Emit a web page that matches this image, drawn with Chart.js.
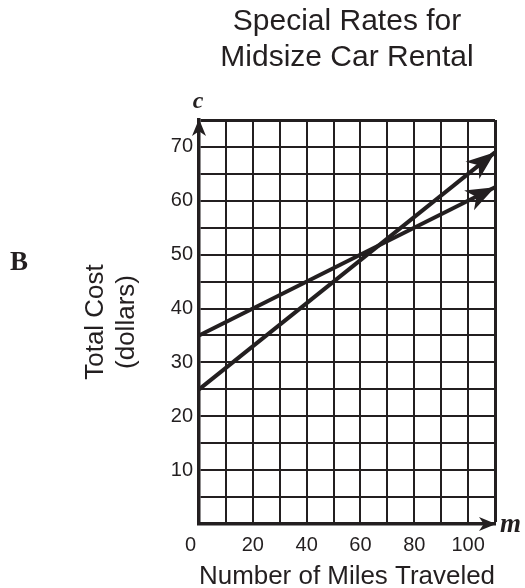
<!DOCTYPE html>
<html>
<head>
<meta charset="utf-8">
<script src="https://cdn.jsdelivr.net/npm/chart.js@4/dist/chart.umd.min.js"></script>
<style>
html,body{margin:0;padding:0;background:#fff;}
#wrap{width:525px;height:588px;position:relative;}
</style>
</head>
<body>
<div id="wrap"><canvas id="c" width="525" height="588"></canvas></div>
<script>
// ---- data ----
const chartTitle = ["Special Rates for", "Midsize Car Rental"];
const xTitle = "Number of Miles Traveled";
const yTitle = ["Total Cost", "(dollars)"];
const miles = [0, 110];
const rateLow = [35, 62.5];   // starts at $35
const rateHigh = [25, 69];    // starts at $25
const xTickLabels = [0, 20, 40, 60, 80, 100];
const yTickLabels = [10, 20, 30, 40, 50, 60, 70];
const partLabel = "B";
const xVar = "m";
const yVar = "c";

const INK = '#231f20';

function arrowHead(ctx, x, y, ang, len, half) {
  ctx.save();
  ctx.translate(x, y);
  ctx.rotate(ang);
  ctx.beginPath();
  ctx.moveTo(0, 0);
  ctx.lineTo(-len, -half);
  ctx.lineTo(-len * 0.72, 0);
  ctx.lineTo(-len, half);
  ctx.closePath();
  ctx.fillStyle = INK;
  ctx.fill();
  ctx.restore();
}

const decor = {
  id: 'decor',
  afterDatasetsDraw(chart) {
    const ctx = chart.ctx;
    const xs = chart.scales.x, ys = chart.scales.y;
    chart.data.datasets.forEach((ds, i) => {
      const pts = chart.getDatasetMeta(i).data;
      const a = pts[pts.length - 2], b = pts[pts.length - 1];
      const ang = Math.atan2(b.y - a.y, b.x - a.x);
      arrowHead(ctx, b.x, b.y, ang, 29, 11);
    });
    const x0 = xs.getPixelForValue(0), xMax = xs.getPixelForValue(xs.max);
    const y0 = ys.getPixelForValue(0), yMax = ys.getPixelForValue(ys.max);
    arrowHead(ctx, x0, yMax - 1, -Math.PI / 2, 17, 7);
    arrowHead(ctx, xMax + 1, y0, 0, 17, 7);
    ctx.save();
    ctx.fillStyle = INK;
    ctx.font = 'italic bold 24px "Liberation Serif", "DejaVu Serif", serif';
    ctx.textAlign = 'center';
    ctx.textBaseline = 'alphabetic';
    ctx.fillText(yVar, x0 - 1, yMax - 12);
    ctx.textAlign = 'left';
    ctx.font = 'italic bold 27px "Liberation Serif", "DejaVu Serif", serif';
    ctx.fillText(xVar, xMax + 5, y0 + 8);
    ctx.font = 'bold 27px "Liberation Serif", "DejaVu Serif", serif';
    ctx.fillText(partLabel, 10, 270);
    ctx.restore();
  }
};

new Chart(document.getElementById('c'), {
  type: 'line',
  data: {
    datasets: [
      { label: 'Low', data: miles.map((m, i) => ({ x: m, y: rateLow[i] })),
        borderColor: INK, borderWidth: 4, pointRadius: 0, tension: 0, fill: false, clip: false },
      { label: 'High', data: miles.map((m, i) => ({ x: m, y: rateHigh[i] })),
        borderColor: INK, borderWidth: 4, pointRadius: 0, tension: 0, fill: false, clip: false }
    ]
  },
  options: {
    responsive: false,
    animation: false,
    events: [],
    layout: { padding: { left: 60, right: 30, top: 0, bottom: 0 } },
    plugins: {
      legend: { display: false },
      tooltip: { enabled: false },
      title: {
        display: true,
        text: chartTitle,
        fullSize: false,
        color: INK,
        font: { family: '"Liberation Sans", Arial, sans-serif', size: 30, weight: 'normal', lineHeight: 1.2 },
        padding: { top: 4, bottom: 44 }
      }
    },
    scales: {
      x: {
        type: 'linear',
        min: 0, max: 110,
        afterFit(s) { s.height = 64; },
        afterBuildTicks(s) { s.ticks = []; for (let v = 0; v <= 110; v += 10) s.ticks.push({ value: v }); },
        ticks: {
          autoSkip: false, maxRotation: 0, padding: 9,
          color: INK,
          font: { family: '"Liberation Sans", Arial, sans-serif', size: 20 },
          callback: (v) => xTickLabels.includes(v) ? (v === 0 ? '0   ' : String(v)) : ''
        },
        grid: {
          color: INK,
          lineWidth: (c) => (c.tick && c.tick.value === 110 ? 3 : 2),
          drawTicks: false
        },
        border: { display: true, color: INK, width: 3.5 },
        title: {
          display: true, text: xTitle, color: INK,
          font: { family: '"Liberation Sans", Arial, sans-serif', size: 26, lineHeight: 0.86 },
          padding: { top: 0, bottom: 0 }
        }
      },
      y: {
        type: 'linear',
        min: 0, max: 75,
        afterFit(s) { s.width = 139; },
        afterBuildTicks(s) { s.ticks = []; for (let v = 0; v <= 75; v += 5) s.ticks.push({ value: v }); },
        ticks: {
          autoSkip: false, padding: 6,
          color: INK,
          font: { family: '"Liberation Sans", Arial, sans-serif', size: 20 },
          callback: (v) => yTickLabels.includes(v) ? String(v) : ''
        },
        grid: {
          color: INK,
          lineWidth: (c) => (c.tick && c.tick.value === 75 ? 3 : 2),
          drawTicks: false
        },
        border: { display: true, color: INK, width: 3.5 },
        title: {
          display: true, text: yTitle, color: INK,
          font: { family: '"Liberation Sans", Arial, sans-serif', size: 26, lineHeight: 1.2 },
          padding: { top: 20, bottom: 0 }
        }
      }
    }
  },
  plugins: [decor]
});
</script>
</body>
</html>
